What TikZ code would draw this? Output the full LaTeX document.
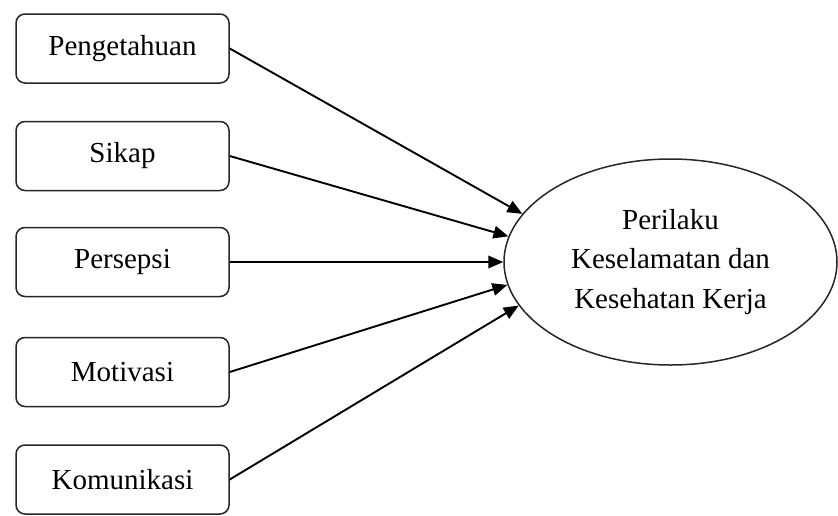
\documentclass[tikz,border=0pt]{standalone}
\usepackage{fontspec}
\setmainfont{Liberation Serif}
\usetikzlibrary{shapes.geometric,arrows.meta}
\begin{document}
\begin{tikzpicture}[x=1pt,y=-1pt,
  varbox/.style={draw=black!85, line width=1.5pt, rounded corners=9pt, minimum width=213pt, minimum height=69pt, inner sep=0pt, font=\fontsize{29}{35}\selectfont},
  target/.style={ellipse, draw=black!85, line width=1.5pt, minimum width=333pt, minimum height=206pt, inner sep=0pt, align=center, font=\fontsize{29}{39.5}\selectfont},
  conn/.style={line width=1.9pt, -{Triangle[length=15pt,width=12.5pt]}}]
\useasboundingbox (0,0) rectangle (838,515);
\node[varbox] (b1) at (122.5,48.5) {Pengetahuan};
\node[varbox] (b2) at (122.5,156) {Sikap};
\node[varbox] (b3) at (122.5,262) {Persepsi};
\node[varbox] (b4) at (122.5,372) {Motivasi};
\node[varbox] (b5) at (122.5,479.5) {Komunikasi};
\node[target] (e) at (670.5,262) {Perilaku\\Keselamatan dan\\Kesehatan Kerja};
\draw[conn] (b1.east) -- (e.162);
\draw[conn] (b2.east) -- (e.171);
\draw[conn] (b3.east) -- (e.180);
\draw[conn] (b4.east) -- (e.188);
\draw[conn] (b5.east) -- (e.196);
\end{tikzpicture}
\end{document}
